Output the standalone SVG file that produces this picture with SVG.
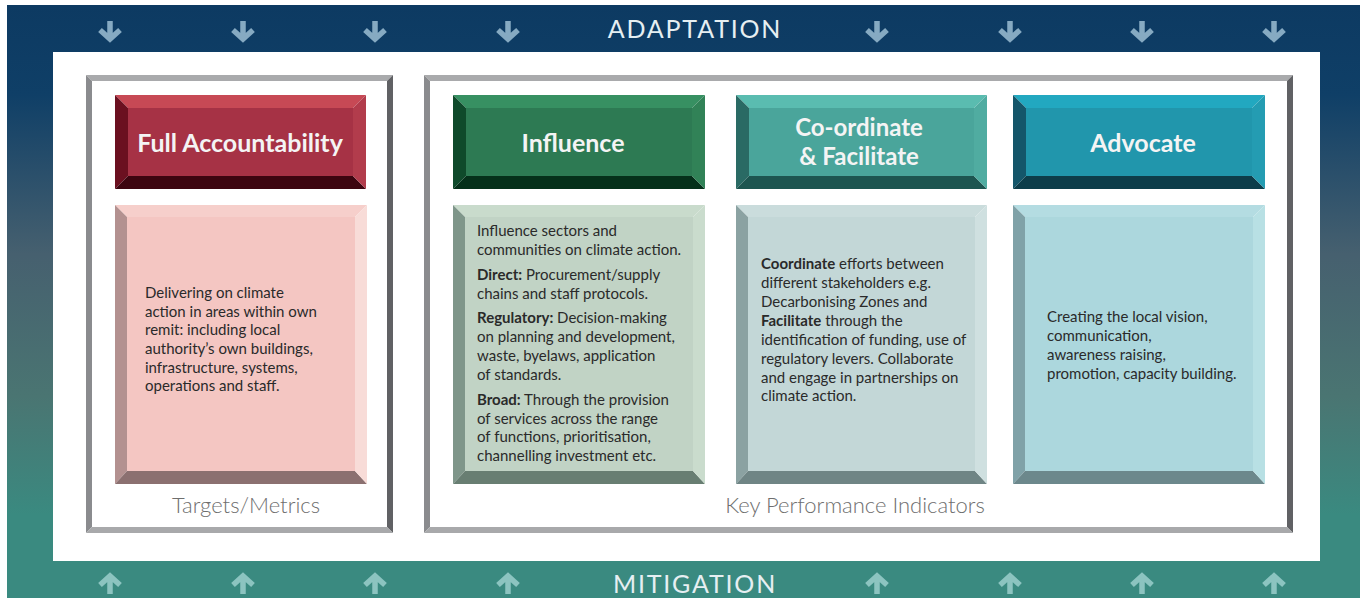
<svg xmlns="http://www.w3.org/2000/svg" width="1365" height="603" viewBox="0 0 1365 603">
<defs>
<linearGradient id="band" x1="0" y1="0" x2="0" y2="1">
<stop offset="0" stop-color="#0d3a62"/>
<stop offset="0.15" stop-color="#0f3f67"/>
<stop offset="0.42" stop-color="#46606f"/>
<stop offset="0.66" stop-color="#4a7572"/>
<stop offset="0.86" stop-color="#3a8a80"/>
<stop offset="1" stop-color="#3a8a80"/>
</linearGradient>
<g id="darr"><path d="M0,-10 V8 M-10,-1 L0,8 L10,-1" fill="none" stroke-width="5.5"/></g>
<g id="uarr"><path d="M0,10 V-8 M-10,1 L0,-8 L10,1" fill="none" stroke-width="5.5"/></g>
</defs>
<style>
text{font-family:Lato,"Open Sans","Liberation Sans",sans-serif}
.band{font-size:25px;fill:#e6eff2;letter-spacing:1.8px;text-anchor:middle}
.hd{font-size:25px;font-weight:bold;fill:#f4f4f4;text-anchor:middle}
.hd2{font-size:24px}
.bd{font-size:15px;fill:#2a2a2a}
.bd tspan.b{font-weight:bold}
.cap{font-size:22px;font-weight:300;fill:#6e6e6e;text-anchor:middle}
.fr-t{fill:#a9aaac}.fr-l{fill:#8a8b8e}.fr-r{fill:#606164}.fr-b{fill:#a8a9ab}
</style>
<rect x="7" y="5" width="1353" height="593" fill="url(#band)"/>
<rect x="53" y="52" width="1267" height="509" fill="#ffffff"/>

<g id="arrows-top" stroke="#86aac2">
<use href="#darr" x="110" y="31"/><use href="#darr" x="243" y="31"/><use href="#darr" x="375" y="31"/><use href="#darr" x="508" y="31"/>
<use href="#darr" x="877" y="31"/><use href="#darr" x="1010" y="31"/><use href="#darr" x="1142" y="31"/><use href="#darr" x="1274" y="31"/>
</g>
<g id="arrows-bottom" stroke="#8cc4c0">
<use href="#uarr" x="110" y="584"/><use href="#uarr" x="243" y="584"/><use href="#uarr" x="375" y="584"/><use href="#uarr" x="508" y="584"/>
<use href="#uarr" x="877" y="584"/><use href="#uarr" x="1010" y="584"/><use href="#uarr" x="1142" y="584"/><use href="#uarr" x="1274" y="584"/>
</g>
<text class="band" x="695" y="38">ADAPTATION</text>
<text class="band" x="695" y="593">MITIGATION</text>

<g id="frame-left">
<rect x="86" y="75" width="307" height="458" fill="#ffffff"/>
<polygon class="fr-t" points="86,75 393,75 387,81 92,81"/>
<polygon class="fr-l" points="86,75 92,81 92,527 86,533"/>
<polygon class="fr-r" points="393,75 393,533 387,527 387,81"/>
<polygon class="fr-b" points="86,533 92,527 387,527 393,533"/>
<text class="cap" x="246" y="513">Targets/Metrics</text>
</g>
<g id="frame-right">
<rect x="424" y="75" width="869" height="458" fill="#ffffff"/>
<polygon class="fr-t" points="424,75 1293,75 1287,81 430,81"/>
<polygon class="fr-l" points="424,75 430,81 430,527 424,533"/>
<polygon class="fr-r" points="1293,75 1293,533 1287,527 1287,81"/>
<polygon class="fr-b" points="424,533 430,527 1287,527 1293,533"/>
<text class="cap" x="855" y="513">Key Performance Indicators</text>
</g>

<!-- Headers -->
<g id="hdr-full-accountability">
<rect x="128" y="108" width="225" height="68" fill="#a63245"/>
<polygon points="115,95 366,95 353,108 128,108" fill="#c74955"/>
<polygon points="115,95 128,108 128,176 115,189" fill="#6b1020"/>
<polygon points="115,189 128,176 353,176 366,189" fill="#3d0510"/>
<polygon points="366,95 366,189 353,176 353,108" fill="#b23c4c"/>
<text class="hd" x="240" y="152">Full Accountability</text>
</g>
<g id="hdr-influence">
<rect x="466" y="108" width="226" height="68" fill="#2d7a53"/>
<polygon points="453,95 705,95 692,108 466,108" fill="#379062"/>
<polygon points="453,95 466,108 466,176 453,189" fill="#0f4a2b"/>
<polygon points="453,189 466,176 692,176 705,189" fill="#05301a"/>
<polygon points="705,95 705,189 692,176 692,108" fill="#318257"/>
<text class="hd" x="573" y="152">Influence</text>
</g>
<g id="hdr-coordinate">
<rect x="749" y="108" width="225" height="68" fill="#4aa59b"/>
<polygon points="736,95 987,95 974,108 749,108" fill="#5abcb0"/>
<polygon points="736,95 749,108 749,176 736,189" fill="#2a6a64"/>
<polygon points="736,189 749,176 974,176 987,189" fill="#1d5550"/>
<polygon points="987,95 987,189 974,176 974,108" fill="#50aca1"/>
<text class="hd hd2" x="859" y="136">Co-ordinate</text>
<text class="hd hd2" x="859" y="165">&amp; Facilitate</text>
</g>
<g id="hdr-advocate">
<rect x="1026" y="108" width="226" height="68" fill="#2196ac"/>
<polygon points="1013,95 1265,95 1252,108 1026,108" fill="#22a8c0"/>
<polygon points="1013,95 1026,108 1026,176 1013,189" fill="#14566a"/>
<polygon points="1013,189 1026,176 1252,176 1265,189" fill="#0d3d4a"/>
<polygon points="1265,95 1265,189 1252,176 1252,108" fill="#249cb2"/>
<text class="hd" x="1143" y="152">Advocate</text>
</g>

<!-- Bodies -->
<g id="body-full-accountability">
<rect x="127" y="217" width="228" height="254" fill="#f4c6c2"/>
<polygon points="115,205 367,205 355,217 127,217" fill="#f6cfcb"/>
<polygon points="115,205 127,217 127,471 115,484" fill="#b39190"/>
<polygon points="115,484 127,471 355,471 367,484" fill="#8b7070"/>
<polygon points="367,205 367,484 355,471 355,217" fill="#f8dcd8"/>
<text class="bd" x="145" y="298">Delivering on climate</text>
<text class="bd" x="145" y="317">action in areas within own</text>
<text class="bd" x="145" y="335">remit: including local</text>
<text class="bd" x="145" y="354">authority’s own buildings,</text>
<text class="bd" x="145" y="373">infrastructure, systems,</text>
<text class="bd" x="145" y="391">operations and staff.</text>
</g>
<g id="body-influence">
<rect x="465" y="217" width="228" height="254" fill="#c1d3c5"/>
<polygon points="453,205 705,205 693,217 465,217" fill="#c9dbcc"/>
<polygon points="453,205 465,217 465,471 453,484" fill="#7f968a"/>
<polygon points="453,484 465,471 693,471 705,484" fill="#687e72"/>
<polygon points="705,205 705,484 693,471 693,217" fill="#cadccd"/>
<text class="bd" x="477" y="236">Influence sectors and</text>
<text class="bd" x="477" y="255">communities on climate action.</text>
<text class="bd" x="477" y="280"><tspan class="b">Direct:</tspan> Procurement/supply</text>
<text class="bd" x="477" y="299">chains and staff protocols.</text>
<text class="bd" x="477" y="323"><tspan class="b">Regulatory:</tspan> Decision-making</text>
<text class="bd" x="477" y="342">on planning and development,</text>
<text class="bd" x="477" y="361">waste, byelaws, application</text>
<text class="bd" x="477" y="380">of standards.</text>
<text class="bd" x="477" y="405"><tspan class="b">Broad:</tspan> Through the provision</text>
<text class="bd" x="477" y="424">of services across the range</text>
<text class="bd" x="477" y="442">of functions, prioritisation,</text>
<text class="bd" x="477" y="461">channelling investment etc.</text>
</g>
<g id="body-coordinate">
<rect x="748" y="217" width="227" height="254" fill="#c3d7d7"/>
<polygon points="736,205 987,205 975,217 748,217" fill="#cadcdc"/>
<polygon points="736,205 748,217 748,471 736,484" fill="#8ba2a2"/>
<polygon points="736,484 748,471 975,471 987,484" fill="#6f8585"/>
<polygon points="987,205 987,484 975,471 975,217" fill="#cfe0e0"/>
<text class="bd" x="761" y="269"><tspan class="b">Coordinate</tspan> efforts between</text>
<text class="bd" x="761" y="288">different stakeholders e.g.</text>
<text class="bd" x="761" y="307">Decarbonising Zones and</text>
<text class="bd" x="761" y="326"><tspan class="b">Facilitate</tspan> through the</text>
<text class="bd" x="761" y="345">identification of funding, use of</text>
<text class="bd" x="761" y="364">regulatory levers. Collaborate</text>
<text class="bd" x="761" y="383">and engage in partnerships on</text>
<text class="bd" x="761" y="401">climate action.</text>
</g>
<g id="body-advocate">
<rect x="1025" y="217" width="228" height="254" fill="#acd7dd"/>
<polygon points="1013,205 1265,205 1253,217 1025,217" fill="#b4dce2"/>
<polygon points="1013,205 1025,217 1025,471 1013,484" fill="#80a2a8"/>
<polygon points="1013,484 1025,471 1253,471 1265,484" fill="#6c888c"/>
<polygon points="1265,205 1265,484 1253,471 1253,217" fill="#b8e0e4"/>
<text class="bd" x="1047" y="322">Creating the local vision,</text>
<text class="bd" x="1047" y="341">communication,</text>
<text class="bd" x="1047" y="360">awareness raising,</text>
<text class="bd" x="1047" y="379">promotion, capacity building.</text>
</g>
</svg>
